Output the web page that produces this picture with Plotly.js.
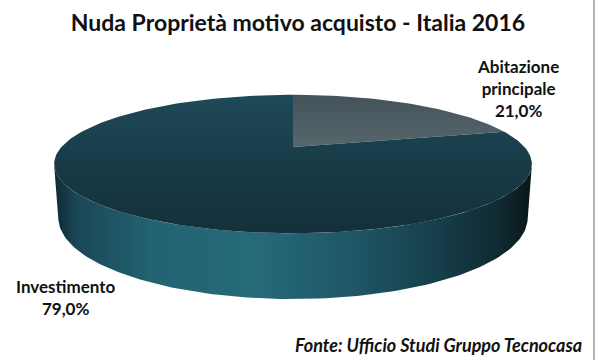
<!DOCTYPE html>
<html>
<head>
<meta charset="utf-8">
<script src="https://cdn.plot.ly/plotly-3.0.1.min.js"></script>
<style>html,body{margin:0;padding:0;background:#fff;}#chart{width:596px;height:360px;}</style>
</head>
<body>
<div id="chart"></div>
<script>
// ---- data ----
var categories = ["Abitazione principale", "Investimento"];
var values = [21.0, 79.0];
var labelTexts = ["Abitazione<br>principale<br>21,0%", "Investimento<br>79,0%"];
var titleText = "Nuda Proprietà motivo acquisto - Italia 2016";
var sourceText = "Fonte: Ufficio Studi Gruppo Tecnocasa";

// ---- 3D pie projection (perspective) ----
var CX = 293, CY = 147;          // screen position of pie centre
var E = 16.3 * Math.PI / 180;    // elevation
var D = 3.9, F = 903, H = 0.235; // camera distance, focal, thickness (radius units)
var sE = Math.sin(E), cE = Math.cos(E);
function proj(X, Y, Z) {
  var depth = D - (Y * sE + Z * cE);
  var up = Y * cE - Z * sE;
  return [CX + X * F / depth, CY - up * F / depth];
}
function rim(theta, Y) { // theta: clockwise from 12 o'clock (back)
  return proj(Math.sin(theta), Y, -Math.cos(theta));
}

var total = values.reduce(function (a, b) { return a + b; }, 0);
var traces = [];

// side band (front visible part)
var zs = 1 / (D * cE);
var thR = Math.PI - Math.acos(zs);  // right silhouette
var thL = Math.PI + Math.acos(zs);  // left silhouette
var sx = [], sy = [], i, t, p, N = 120;
for (i = 0; i <= N; i++) { t = thR + (thL - thR) * i / N; p = rim(t, 0); sx.push(p[0]); sy.push(p[1]); }
for (i = N; i >= 0; i--) { t = thR + (thL - thR) * i / N; p = rim(t, -H); sx.push(p[0]); sy.push(p[1]); }
traces.push({
  type: "scatter", mode: "lines", x: sx, y: sy, fill: "toself",
  line: {width: 0, color: "rgba(0,0,0,0)"},
  fillgradient: {type: "horizontal", colorscale: [
    [0, "#0f2a33"], [0.05, "#1a4857"], [0.2, "#236271"], [0.42, "#266a7a"],
    [0.62, "#1f5767"], [0.8, "#173f4b"], [0.93, "#102a31"], [1, "#0a1619"]]},
  hoverinfo: "skip", showlegend: false
});

// top face slices
var topColors = [
  [[0, "#56666b"], [1, "#44535a"]],
  [[0, "#14303a"], [0.5, "#183b47"], [1, "#1f4a59"]]
];
var cum = 0;
for (var k = 0; k < values.length; k++) {
  var a0 = cum / total * 2 * Math.PI;
  cum += values[k];
  var a1 = cum / total * 2 * Math.PI;
  var x = [CX], y = [CY];
  var n = Math.max(8, Math.round((a1 - a0) / (2 * Math.PI) * 240));
  for (i = 0; i <= n; i++) { p = rim(a0 + (a1 - a0) * i / n, 0); x.push(p[0]); y.push(p[1]); }
  x.push(CX); y.push(CY);
  traces.push({
    type: "scatter", mode: "lines", x: x, y: y, fill: "toself",
    name: categories[k],
    line: {width: 0, color: "rgba(0,0,0,0)"},
    fillgradient: {type: "vertical", colorscale: topColors[k]},
    hoverinfo: "text", text: categories[k] + ": " + values[k].toFixed(1).replace(".", ",") + "%",
    showlegend: false
  });
}

var FONT = "Lato, 'Open Sans', sans-serif";
var lblFont = {family: FONT, size: 17, color: "#111"};
var layout = {
  width: 596, height: 360,
  margin: {l: 0, r: 0, t: 0, b: 0},
  paper_bgcolor: "#ffffff", plot_bgcolor: "#ffffff",
  xaxis: {range: [0, 596], visible: false, fixedrange: true},
  yaxis: {range: [360, 0], visible: false, fixedrange: true},
  showlegend: false,
  title: {text: "<b>" + titleText + "</b>", x: 0.5, xanchor: "center", y: 1 - 23 / 360, yanchor: "middle",
          font: {family: FONT, size: 23, color: "#111"}},
  annotations: [
    {text: "<b>" + labelTexts[0] + "</b>", x: 518, y: 88, xref: "x", yref: "y", showarrow: false,
     align: "center", font: lblFont, yanchor: "middle"},
    {text: "<b>" + labelTexts[1] + "</b>", x: 66, y: 297, xref: "x", yref: "y", showarrow: false,
     align: "center", font: lblFont, yanchor: "middle"},
    {text: "<b><i>" + sourceText + "</i></b>", x: 584, y: 345, xref: "x", yref: "y", showarrow: false,
     xanchor: "right", yanchor: "middle", font: {family: FONT, size: 18, color: "#111"}}
  ],
  shapes: [
    {type: "line", xref: "paper", yref: "paper", x0: 0.9966, x1: 0.9966, y0: 0, y1: 1,
     line: {color: "#9a9a9a", width: 1.5}}
  ]
};
Plotly.newPlot("chart", traces, layout, {displayModeBar: false, staticPlot: true});
</script>
</body>
</html>
